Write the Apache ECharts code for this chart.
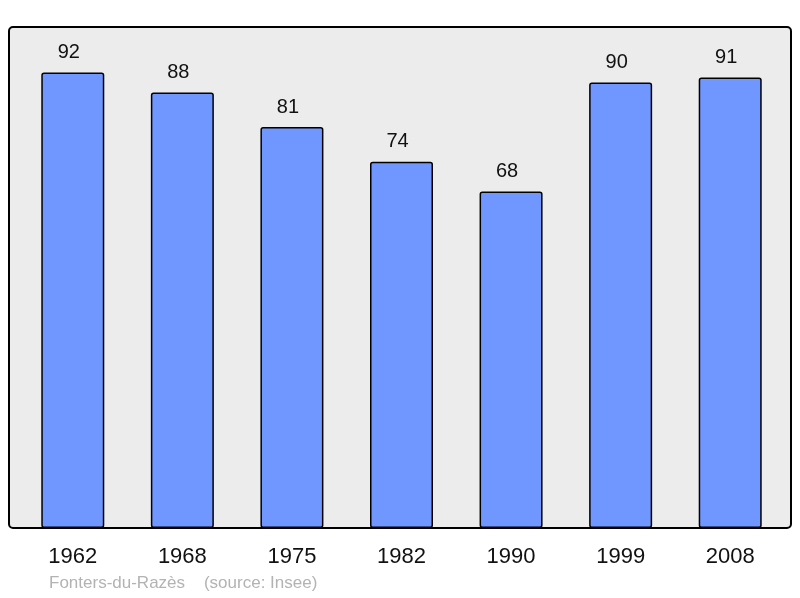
<!DOCTYPE html>
<html>
<head>
<meta charset="utf-8">
<script src="https://cdn.jsdelivr.net/npm/echarts@6/dist/echarts.min.js"></script>
<style>
  html, body { margin: 0; padding: 0; background: #fff; }
  #chart { width: 800px; height: 598px; }
</style>
</head>
<body>
<div id="chart"></div>
<script>
// population by census year
var years = ['1962', '1968', '1975', '1982', '1990', '1999', '2008'];
var population = [92, 88, 81, 74, 68, 90, 91];
var footer = 'Fonters-du-Razès    (source: Insee)';

var font = 'Liberation Sans, Arial, sans-serif';
var myChart = echarts.init(document.getElementById('chart'));

myChart.setOption({
    animation: false,
    textStyle: { fontFamily: font },
    graphic: [
        {
            type: 'rect',
            z: -10,
            shape: { x: 9, y: 27, width: 782, height: 501, r: 4 },
            style: { fill: '#ececec', stroke: '#000', lineWidth: 2 }
        },
        {
            type: 'text',
            left: 49,
            top: 575,
            style: { text: footer, fill: '#b3b3b3', font: '17px ' + font }
        }
    ],
    grid: { left: 18, top: 33, width: 767, height: 495 },
    xAxis: {
        type: 'category',
        data: years,
        axisLine: { show: false },
        axisTick: { show: false },
        axisLabel: { color: '#111', fontSize: 22, margin: 18 }
    },
    yAxis: {
        type: 'value',
        min: 0,
        max: 100,
        show: false
    },
    series: [{
        type: 'bar',
        data: population,
        barWidth: 63,
        itemStyle: { color: '#7097ff', borderColor: '#000', borderWidth: 1.5, borderRadius: 2 },
        label: { show: true, position: 'top', distance: 11, offset: [-4, 1], color: '#111', fontSize: 20 }
    }]
});
</script>
</body>
</html>
